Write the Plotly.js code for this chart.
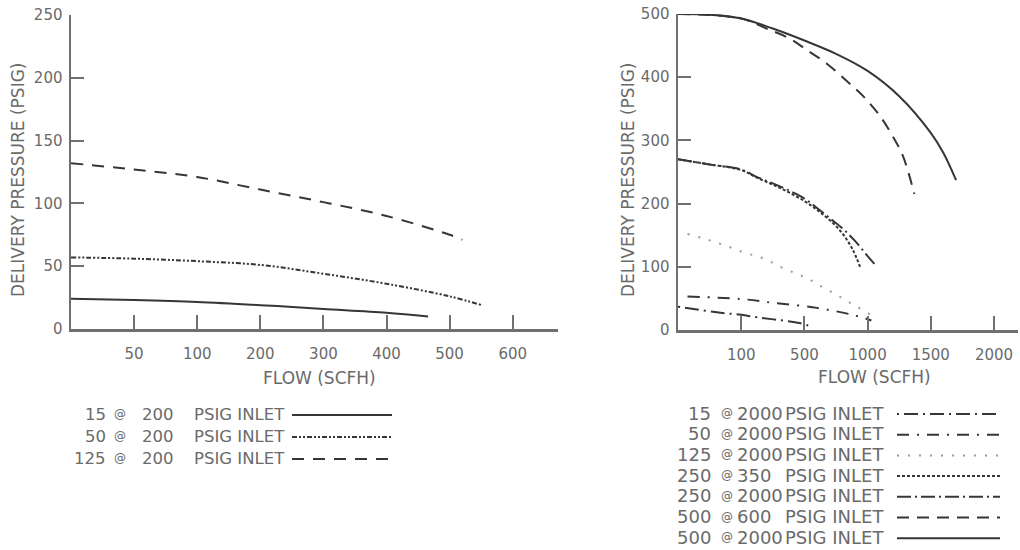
<!DOCTYPE html>
<html>
<head>
<meta charset="utf-8">
<script src="https://cdn.plot.ly/plotly-3.0.1.min.js"></script>
<style>html,body{margin:0;padding:0;background:#fff;}#chart{width:1020px;height:550px;}</style>
</head>
<body>
<div id="chart"></div>
<script>
// ---------- DATA ----------
// Non-uniform flow scales (each tick is one equal step on the printed axis)
const leftBreaks  = [0, 50, 100, 200, 300, 400, 500, 600];
const rightBreaks = [0, 100, 500, 1000, 1500, 2000];
const leftTickValues  = [50, 100, 200, 300, 400, 500, 600];
const leftTickLabels  = ['50', '100', '200', '300', '400', '500', '600'];
const rightTickValues = [100, 500, 1000, 1500, 2000];
const rightTickLabels = ['100', '500', '1000', '1500', '2000'];
const leftYTicks  = [0, 50, 100, 150, 200, 250];
const rightYTicks = [0, 100, 200, 300, 400, 500];

// Left chart: 200 PSIG inlet
const flow15_200  = [0, 50, 100, 200, 300, 400, 466];
const pres15_200  = [24, 23, 21.5, 19, 16, 13, 10];
const flow50_200  = [0, 50, 100, 200, 300, 400, 500, 551];
const pres50_200  = [57, 56, 54, 51, 44, 36, 26, 19];
const flow125_200 = [0, 50, 100, 200, 300, 400, 500, 520];
const pres125_200 = [132, 127, 121, 111, 101, 90, 75, 71];

// Right chart
const flow15_2000  = [0, 40, 70, 100, 200, 330, 470, 530];
const pres15_2000  = [37, 31, 27, 24, 20, 16, 11, 7];
const flow50_2000  = [15, 100, 300, 600, 900, 1030];
const pres50_2000  = [53, 49, 43, 35, 23, 15];
const flow125_2000 = [15, 40, 65, 85, 125, 210, 285, 365, 450, 530, 640, 725, 820, 915, 1020, 1050];
const pres125_2000 = [152, 145, 137, 130, 122, 116, 108, 98, 89, 81, 68, 59, 48, 37, 24, 16];
const flow250_350  = [0, 50, 100, 200, 300, 400, 500, 600, 700, 800, 880, 940];
const pres250_350  = [270, 262, 253, 241, 230, 218, 204, 190, 174, 153, 128, 100];
const flow250_2000 = [0, 50, 100, 200, 300, 400, 500, 600, 700, 800, 900, 1000, 1075];
const pres250_2000 = [270, 262, 254, 242, 232, 221, 208, 193, 177, 161, 141, 117, 100];
const flow500_600  = [0, 100, 250, 400, 520, 680, 835, 965, 1100, 1200, 1280, 1370];
const pres500_600  = [500, 493, 478, 462, 443, 421, 394, 370, 338, 306, 275, 215];
const flow500_2000 = [0, 50, 100, 300, 500, 750, 1000, 1250, 1500, 1600, 1700];
const pres500_2000 = [500, 499, 493, 477, 458, 437, 410, 370, 312, 280, 237];

// Legend labels
const leftDelivery  = ['15', '50', '125'];
const leftInlet     = ['200', '200', '200'];
const rightDelivery = ['15', '50', '125', '250', '250', '500', '500'];
const rightInlet    = ['2000', '2000', '2000', '350', '2000', '600', '2000'];

// ---------- STYLES ----------
const INK = '#363636';
const TXT = '#6a6a6a';
const AX  = '#707070';
const FONT = 'DejaVu Sans, Liberation Sans, sans-serif';

const leftDash  = ['solid', '5px,2px,2px,2px,2px,2px', '12px,9px'];
const leftColor = [INK, INK, INK];
const rightDash = ['2px,5px,14px,5px', '12px,8px,2px,8px', '2px,9px', '3px,2px',
                   '14px,4px,2px,4px', '12px,8px', 'solid'];
const rightColor = [INK, INK, '#9a9a9a', INK, INK, INK, INK];

// map a flow value onto the printed (equal-step) axis
function toPos(v, brk) {
  for (let i = 1; i < brk.length; i++) {
    if (v <= brk[i] || i === brk.length - 1) {
      return (i - 1) + (v - brk[i - 1]) / (brk[i] - brk[i - 1]);
    }
  }
}
const mapL = a => a.map(v => toPos(v, leftBreaks));
const mapR = a => a.map(v => toPos(v, rightBreaks));

const leftSeries = [
  [flow15_200, pres15_200], [flow50_200, pres50_200], [flow125_200, pres125_200]
];
const rightSeries = [
  [flow15_2000, pres15_2000], [flow50_2000, pres50_2000], [flow125_2000, pres125_2000],
  [flow250_350, pres250_350], [flow250_2000, pres250_2000],
  [flow500_600, pres500_600], [flow500_2000, pres500_2000]
];

const traces = [];
leftSeries.forEach((s, i) => traces.push({
  x: mapL(s[0]), y: s[1], xaxis: 'x', yaxis: 'y', mode: 'lines', type: 'scatter',
  line: {color: leftColor[i], width: 2, dash: leftDash[i], shape: 'spline', smoothing: 1},
  showlegend: false, hoverinfo: 'skip'
}));
rightSeries.forEach((s, i) => traces.push({
  x: mapR(s[0]), y: s[1], xaxis: 'x2', yaxis: 'y2', mode: 'lines', type: 'scatter',
  line: {color: rightColor[i], width: 2, dash: rightDash[i], shape: 'spline', smoothing: 1},
  showlegend: false, hoverinfo: 'skip'
}));

// ---------- LAYOUT ----------
const W = 1020, H = 550;
const px = x => x / W, py = y => 1 - y / H;

function xAxis(domain, range, vals, labels) {
  return {
    domain: domain, range: range, tickmode: 'array', tickvals: vals, ticktext: labels,
    showline: true, linecolor: AX, linewidth: 2.5, ticks: 'inside', ticklen: 14,
    tickwidth: 2, tickcolor: AX, showgrid: false, zeroline: false,
    tickfont: {family: FONT, size: 15, color: TXT}, ticklabelstandoff: 9, fixedrange: true
  };
}
function yAxis(domain, range, vals, anchor) {
  return {
    domain: domain, range: range, tickmode: 'array', tickvals: vals, anchor: anchor,
    showline: true, linecolor: AX, linewidth: 2.5, ticks: 'inside', ticklen: 13,
    tickwidth: 2, tickcolor: AX, showgrid: false, zeroline: false,
    tickfont: {family: FONT, size: 15, color: TXT}, ticklabelstandoff: 3, fixedrange: true
  };
}

const leftUnit = 63.1, rightUnit = 63.2;
const layout = {
  width: W, height: H, margin: {l: 0, r: 0, t: 0, b: 0},
  paper_bgcolor: '#ffffff', plot_bgcolor: '#ffffff', showlegend: false,
  xaxis:  xAxis([px(71), px(558)], [0, (558 - 71) / leftUnit],
                leftTickValues.map(v => toPos(v, leftBreaks)), leftTickLabels),
  yaxis:  yAxis([py(329), py(15)], [0, 250], leftYTicks, 'x'),
  xaxis2: xAxis([px(678), px(1018)], [0, (1018 - 678) / rightUnit],
                rightTickValues.map(v => toPos(v, rightBreaks)), rightTickLabels),
  yaxis2: yAxis([py(330), py(14)], [0, 500], rightYTicks, 'x2'),
  annotations: [], shapes: []
};
layout.xaxis.anchor = 'y';
layout.xaxis2.anchor = 'y2';

function txt(x, y, s, anchor, size, angle) {
  layout.annotations.push({
    xref: 'paper', yref: 'paper', x: px(x), y: py(y), text: s, showarrow: false,
    xanchor: anchor, yanchor: 'middle', textangle: angle || 0,
    font: {family: FONT, size: size, color: TXT}
  });
}

// axis titles
txt(18, 180, 'DELIVERY PRESSURE (PSIG)', 'center', 17, -90);
txt(628, 180, 'DELIVERY PRESSURE (PSIG)', 'center', 17, -90);
txt(319, 378, 'FLOW (SCFH)', 'center', 17);
txt(874, 377, 'FLOW (SCFH)', 'center', 17);

// left legend
leftDelivery.forEach((d, i) => {
  const y = 414 + 22 * i;
  txt(108, y, d, 'right', 16.5);
  txt(120, y, '@', 'center', 12);
  txt(140, y, leftInlet[i], 'left', 16.5);
  txt(192, y, 'PSIG INLET', 'left', 16.5);
  layout.shapes.push({type: 'line', xref: 'paper', yref: 'paper',
    x0: px(292), x1: px(392), y0: py(y + 1), y1: py(y + 1),
    line: {color: leftColor[i], width: 2, dash: leftDash[i]}});
});

// right legend
rightDelivery.forEach((d, i) => {
  const y = 413 + 20.7 * i;
  txt(713, y, d, 'right', 18);
  txt(727, y, '@', 'center', 12);
  txt(735, y, rightInlet[i], 'left', 18);
  txt(783, y, 'PSIG INLET', 'left', 18);
  layout.shapes.push({type: 'line', xref: 'paper', yref: 'paper',
    x0: px(897), x1: px(1000), y0: py(y + 1), y1: py(y + 1),
    line: {color: rightColor[i], width: 2, dash: rightDash[i]}});
});

Plotly.newPlot('chart', traces, layout, {staticPlot: true, displayModeBar: false});
</script>
</body>
</html>
